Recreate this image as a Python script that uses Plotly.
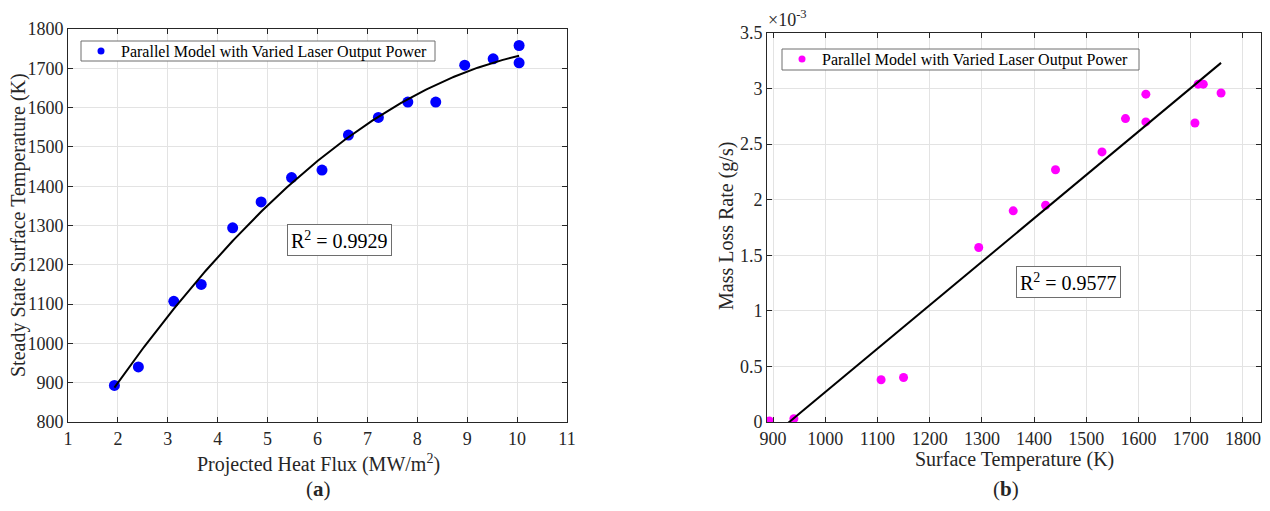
import numpy as np
import plotly.graph_objects as go

# ---- data ----
heat_flux = [1.93, 2.41, 3.12, 3.67, 4.30, 4.87, 5.48, 6.09, 6.62, 7.22, 7.81, 8.37, 8.95, 9.52, 10.04, 10.04]
surf_temp = [893, 940, 1107, 1150, 1294, 1360, 1422, 1441, 1530, 1575, 1614, 1614, 1708, 1724, 1758, 1714]

temp_b = [893, 940, 1107, 1150, 1294, 1360, 1422, 1441, 1530, 1575, 1614, 1614, 1708, 1714, 1724, 1758]
mass_loss_e3 = [0.01, 0.03, 0.38, 0.40, 1.57, 1.90, 1.95, 2.27, 2.43, 2.73, 2.95, 2.70, 2.69, 3.04, 3.04, 2.96]

legend_name = "Parallel Model with Varied Laser Output Power"
r2_a = "R<sup>2</sup> = 0.9929"
r2_b = "R<sup>2</sup> = 0.9577"

# ---- fits ----
ca = np.polyfit(heat_flux, surf_temp, 2)
xa = np.linspace(min(heat_flux), max(heat_flux), 200)
ya = np.polyval(ca, xa)
cb = np.polyfit(temp_b, mass_loss_e3, 1)
xb = np.linspace(min(temp_b), max(temp_b), 200)
yb = np.polyval(cb, xb)

FONT = "Liberation Serif"
OFF = 8                      # page body margin
W, H = 1270 - 2 * OFF, 511 - 2 * OFF
def px(x): return (x - OFF) / W
def py(y): return 1 - (y - OFF) / H

fig = go.Figure()
# left
fig.add_trace(go.Scatter(x=heat_flux, y=surf_temp, mode="markers", showlegend=False,
                         marker=dict(color="#0000ff", size=11), xaxis="x", yaxis="y"))
fig.add_trace(go.Scatter(x=xa, y=ya, mode="lines", showlegend=False,
                         line=dict(color="black", width=2), xaxis="x", yaxis="y"))
fig.add_trace(go.Scatter(x=[None], y=[None], mode="markers", name=legend_name, legend="legend",
                         marker=dict(color="#0000ff", size=7), xaxis="x", yaxis="y"))
# right
fig.add_trace(go.Scatter(x=temp_b, y=mass_loss_e3, mode="markers", showlegend=False,
                         marker=dict(color="#ff00ff", size=9), xaxis="x2", yaxis="y2"))
fig.add_trace(go.Scatter(x=xb, y=yb, mode="lines", showlegend=False,
                         line=dict(color="black", width=2), xaxis="x2", yaxis="y2"))
fig.add_trace(go.Scatter(x=[None], y=[None], mode="markers", name=legend_name, legend="legend2",
                         marker=dict(color="#ff00ff", size=7), xaxis="x2", yaxis="y2"))

axis_common = dict(showgrid=True, gridcolor="#e3e3e3", gridwidth=1, zeroline=False,
                   showline=True, linecolor="#262626", linewidth=1, mirror="ticks",
                   ticks="inside", ticklen=5, tickcolor="#262626", automargin=False,
                   tickfont=dict(family=FONT, size=18, color="#262626"))

fig.update_layout(
    width=W, height=H,
    margin=dict(l=0, r=0, t=0, b=0, autoexpand=False),
    paper_bgcolor="white", plot_bgcolor="white",
    font=dict(family=FONT, color="#262626"),
    xaxis=dict(domain=[px(68), px(567)], range=[1, 11], dtick=1, anchor="y", **axis_common),
    yaxis=dict(domain=[py(422), py(29)], range=[800, 1800], dtick=100, anchor="x", **axis_common),
    xaxis2=dict(domain=[px(767), px(1261)], range=[888.5, 1834.5], tickvals=list(range(900, 1801, 100)),
                anchor="y2", **axis_common),
    yaxis2=dict(domain=[py(422), py(33)], range=[0, 3.5], dtick=0.5, anchor="x2", **axis_common),
    legend=dict(x=px(81), y=py(34), xanchor="left", yanchor="top",
                bgcolor="rgba(0,0,0,0)", borderwidth=0,
                font=dict(family=FONT, size=16, color="black"), tracegroupgap=0),
    legend2=dict(x=px(782), y=py(42), xanchor="left", yanchor="top",
                 bgcolor="rgba(0,0,0,0)", borderwidth=0,
                 font=dict(family=FONT, size=16, color="black"), tracegroupgap=0),
)

# legend frames
for x0, y0, x1, y1 in [(81, 41, 435, 61), (782, 49, 1139, 70)]:
    fig.add_shape(type="rect", xref="paper", yref="paper", layer="above",
                  x0=px(x0), x1=px(x1), y0=py(y1), y1=py(y0),
                  fillcolor="white", line=dict(color="#6e6e6e", width=1))

for x, y, t in [(340, 240, r2_a), (1068, 282, r2_b)]:
    fig.add_annotation(xref="paper", yref="paper", x=px(x), y=py(y), text=t,
                       xanchor="center", yanchor="middle",
                       showarrow=False, bgcolor="white", bordercolor="#6e6e6e", borderwidth=1,
                       borderpad=3, font=dict(family=FONT, size=20, color="black"))

labels = [
    dict(x=318, y=463, text="Projected Heat Flux (MW/m<sup>2</sup>)", angle=0, size=20),
    dict(x=19, y=225, text="Steady State Surface Temperature (K)", angle=-90, size=20),
    dict(x=1015, y=459, text="Surface Temperature (K)", angle=0, size=20),
    dict(x=727, y=226, text="Mass Loss Rate (g/s)", angle=-90, size=20),
    dict(x=787, y=18, text="×10<sup>-3</sup>", angle=0, size=18),
    dict(x=318, y=489, text="(<b>a</b>)", angle=0, size=21),
    dict(x=1006, y=489, text="(<b>b</b>)", angle=0, size=21),
]
for l in labels:
    fig.add_annotation(xref="paper", yref="paper", x=px(l["x"]), y=py(l["y"]), text=l["text"],
                       textangle=l["angle"], showarrow=False, xanchor="center", yanchor="middle",
                       font=dict(family=FONT, size=l["size"], color="#262626"))

fig.write_html("out.html")
